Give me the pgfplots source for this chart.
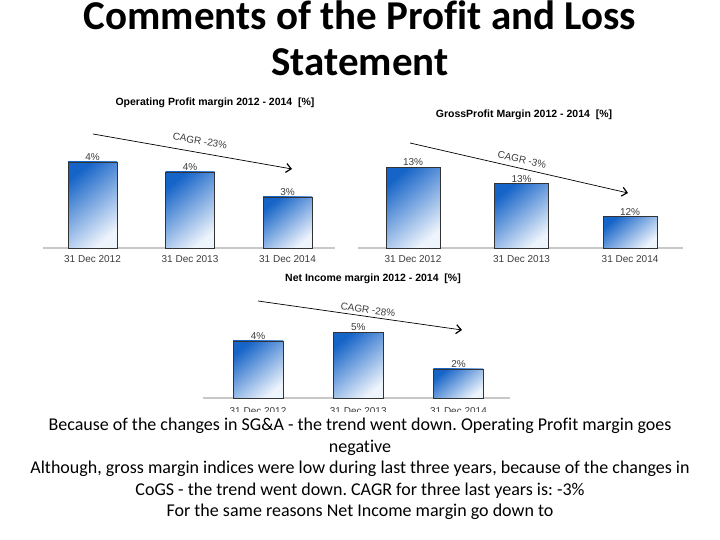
\documentclass[border=0pt]{standalone}
\usepackage{fontspec}
\setmainfont{Carlito}[Ligatures=CommonOff]
\newfontfamily\arial{Liberation Sans}
\usepackage{pgfplots}
\pgfplotsset{compat=1.18}
\usetikzlibrary{arrows.meta}
\frenchspacing
\definecolor{barblue}{RGB}{22,100,200}
\definecolor{barlight}{RGB}{238,244,252}
\definecolor{txtgray}{RGB}{60,60,60}
\definecolor{basegray}{RGB}{200,200,200}

\pgfplotsset{
  mybars/.style={
    scale only axis,
    anchor=south west,
    ybar, bar shift=0pt,
    axis y line=none,
    axis x line*=bottom,
    x axis line style={draw=basegray, line width=1.3pt, -},
    xtick={0,1,2},
    xticklabels={31 Dec 2012,31 Dec 2013,31 Dec 2014},
    major tick length=0pt,
    xticklabel style={font=\arial\fontsize{10}{12}\selectfont, text=txtgray, anchor=north, inner sep=0pt, yshift=-7pt},
    nodes near coords,
    point meta=explicit symbolic,
    every node near coord/.append style={font=\arial\fontsize{10}{12}\selectfont, text=txtgray, inner sep=1pt},
    clip=false,
  },
  mybar/.style={draw=black!80, line width=0.7pt, top color=barblue, bottom color=barlight, shading angle=40},
}
\newcommand\carr{-{Straight Barb[length=5pt,width=9pt,line width=1.2pt]}}

\begin{document}
\begin{tikzpicture}
\useasboundingbox (0pt,0pt) rectangle (720pt,540pt);

% chart 1: Operating Profit margin
\begin{axis}[mybars, at={(43pt,292pt)}, width=292pt, height=120pt, ymin=0, ymax=6,
  xmin=-0.508, xmax=2.487, bar width=49pt]
\addplot[mybar] coordinates {(0,4.3) [4\%]};
\addplot[mybar] coordinates {(1,3.8) [4\%]};
\addplot[mybar] coordinates {(2,2.55) [3\%]};
\end{axis}

% chart 2: Gross Profit margin (axis starts at 12)
\begin{axis}[mybars, at={(358pt,292pt)}, width=325pt, height=124.6pt, ymin=0, ymax=2,
  xmin=-0.507, xmax=2.488, bar width=54pt]
\addplot[mybar, y filter/.expression={y-12}] coordinates {(0,13.3) [13\%]};
\addplot[mybar, y filter/.expression={y-12}] coordinates {(1,13.03) [13\%]};
\addplot[mybar, y filter/.expression={y-12}] coordinates {(2,12.5) [12\%]};
\end{axis}

% chart 3: Net Income margin
\begin{axis}[mybars, at={(203pt,142pt)}, width=307pt, height=95pt, ymin=0, ymax=7,
  xmin=-0.549, xmax=2.514, bar width=50pt,
  xticklabel style={yshift=-2pt}]
\addplot[mybar] coordinates {(0,4.2) [4\%]};
\addplot[mybar] coordinates {(1,4.86) [5\%]};
\addplot[mybar] coordinates {(2,2.14) [2\%]};
\end{axis}

\begin{scope}[x=1pt,y=1pt]
% main title
\node[anchor=base, inner sep=0pt, font=\fontsize{41}{46}\selectfont\bfseries] at (360,510) {Comments of the Profit and Loss};
\node[anchor=base, inner sep=0pt, font=\fontsize{41}{46}\selectfont\bfseries] at (360,464) {Statement};

\node[font=\arial\bfseries\fontsize{10.5}{12}\selectfont] at (215,437) {Operating Profit margin 2012 - 2014\ \ [\%]};
\draw[line width=0.7pt, \carr] (93,406) -- (292,371);
\node[font=\arial\fontsize{10}{12}\selectfont, text=txtgray, rotate=-10] at (200,399) {CAGR -23\%};

\node[font=\arial\bfseries\fontsize{10.5}{12}\selectfont] at (524,425) {GrossProfit Margin 2012 - 2014\ \ [\%]};
\draw[line width=0.7pt, \carr] (410,397) -- (628,347);
\node[font=\arial\fontsize{10}{12}\selectfont, text=txtgray, rotate=-13] at (522,380) {CAGR -3\%};

\node[font=\arial\bfseries\fontsize{10.5}{12}\selectfont] at (373,261) {Net Income margin 2012 - 2014\ \ [\%]};
\draw[line width=0.7pt, \carr] (258,239) -- (462,210);
\node[font=\arial\fontsize{10}{12}\selectfont, text=txtgray, rotate=-8] at (368,230) {CAGR -28\%};

% text box
\fill[white] (0,0) rectangle (720,128);
\begin{scope}[every node/.style={anchor=base, inner sep=0pt, font=\fontsize{18}{21}\selectfont}]
\node at (360,109) {Because of the changes in SG\&A - the trend went down. Operating Profit margin goes};
\node at (360,87.5) {negative};
\node at (360,66) {Although, gross margin indices were low during last three years, because of the changes in};
\node at (360,44.5) {CoGS - the trend went down. CAGR for three last years is: -3\%};
\node at (360,23) {For the same reasons Net Income margin go down to};
\end{scope}
\end{scope}
\end{tikzpicture}
\end{document}
